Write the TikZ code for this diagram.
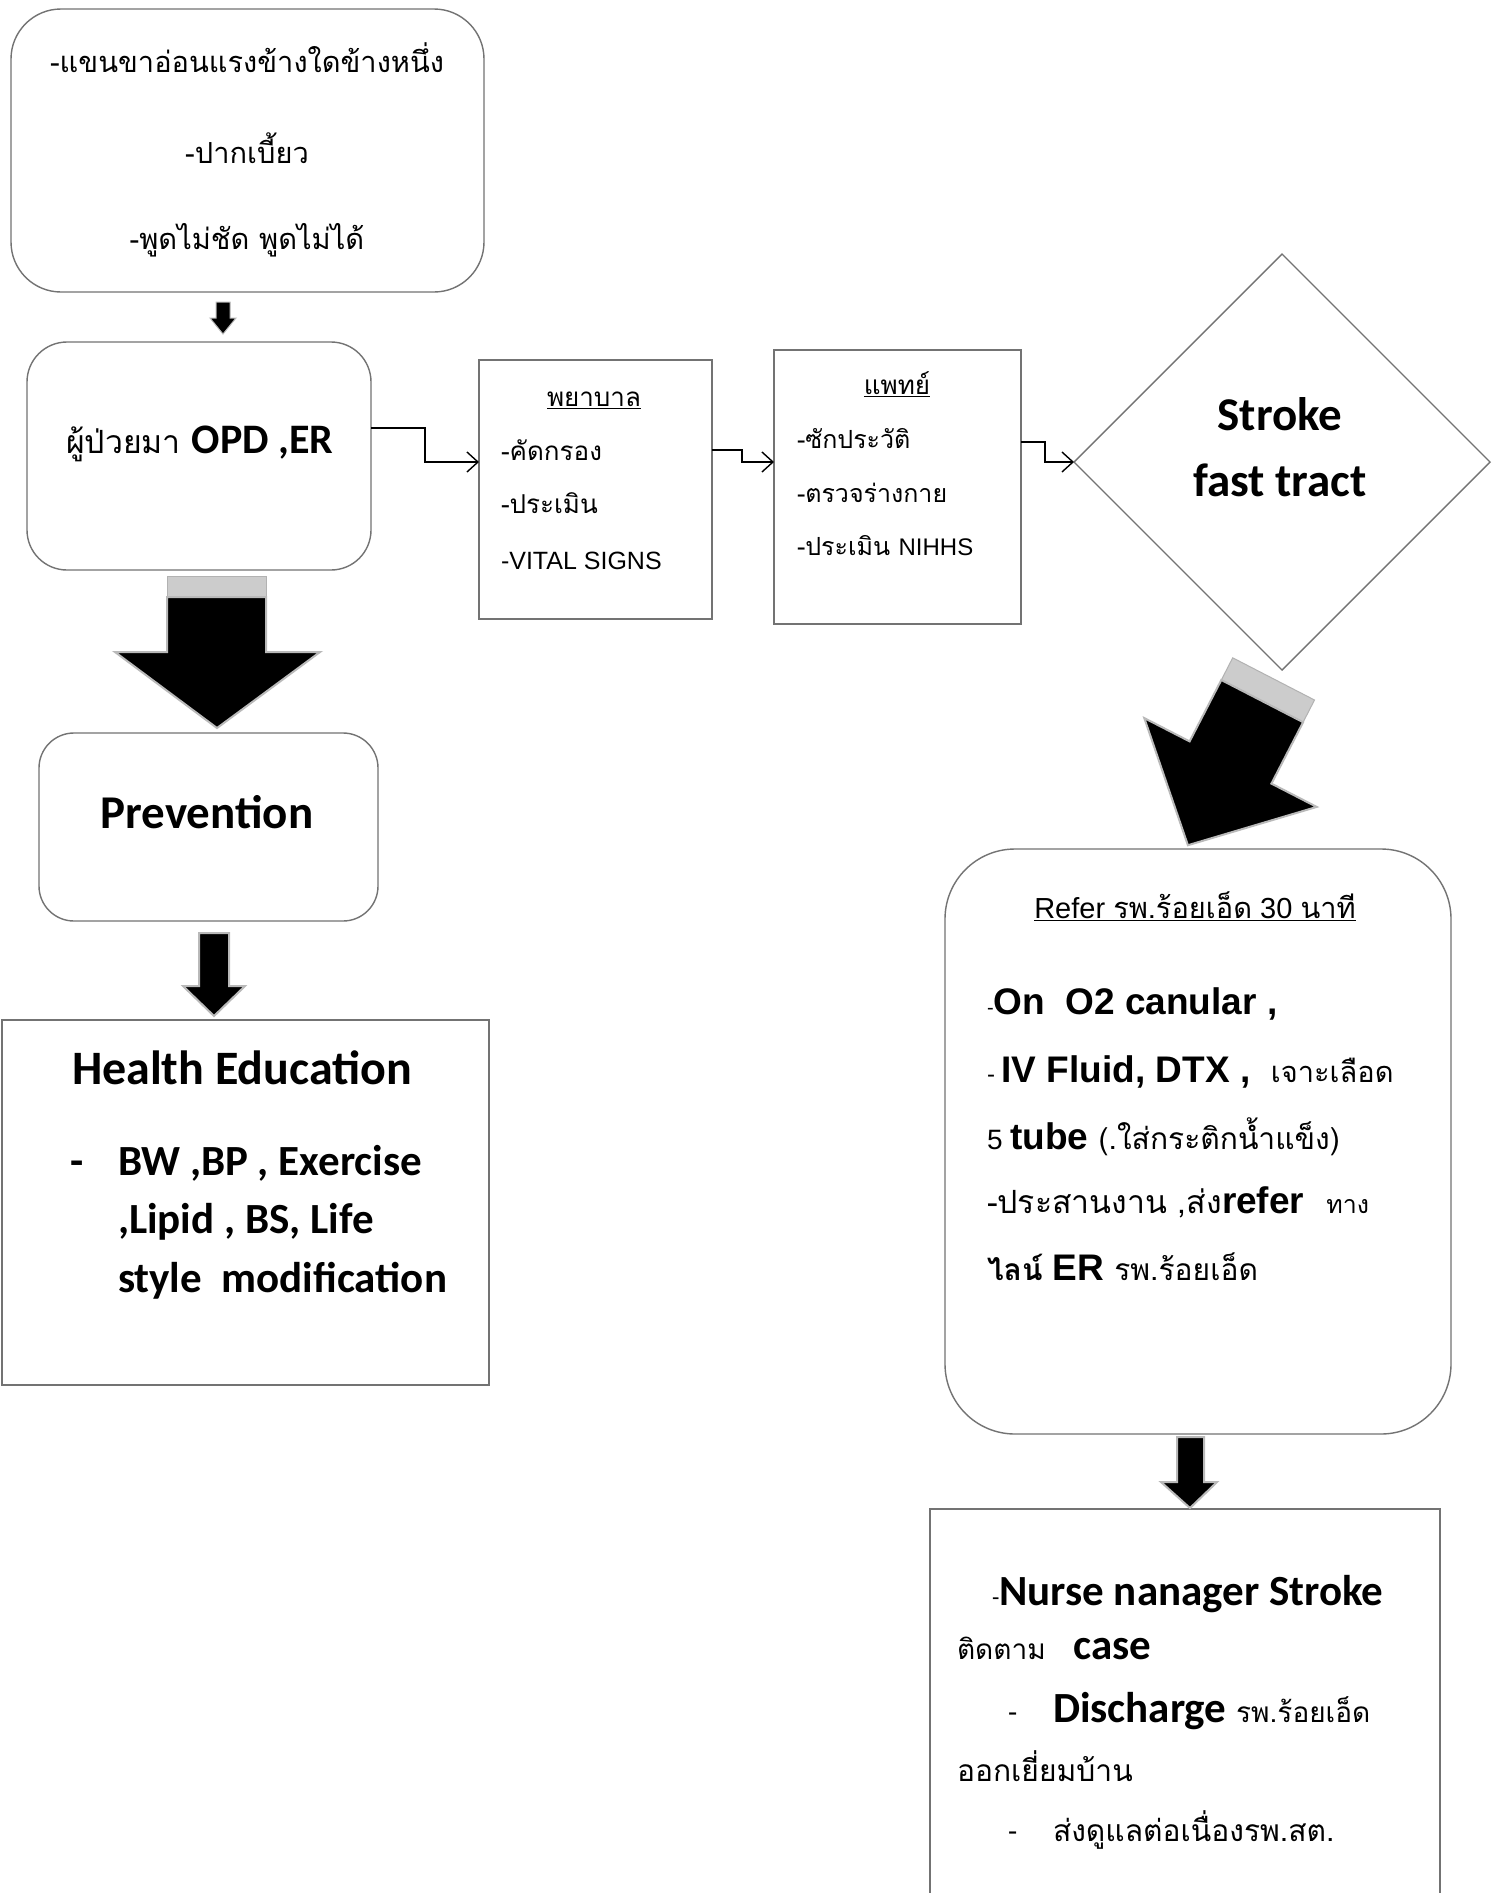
\documentclass[tikz,border=0pt]{standalone}
\usepackage{fontspec}
\setmainfont{Carlito}
\newfontfamily\thai[Script=Thai]{Loma}
\newfontfamily\arial{Liberation Sans}
\newcommand\setfs[1]{\fontsize{#1}{#1}\selectfont}
\usetikzlibrary{arrows.meta,shapes.geometric}
\begin{document}
\begin{tikzpicture}[x=1pt,y=-1pt,
  rbox/.style={draw=black!55, line width=1.4pt, inner sep=0pt, outer sep=0pt},
  conn/.style={line width=1.4pt, -{Straight Barb[length=11pt,width=20pt,line width=1.4pt]}},
  barrow/.style={fill=black, draw=gray!55, line width=2pt, line join=miter},
  band/.style={fill=gray!40, draw=gray!60, line width=1pt},
  txt/.style={inner sep=0pt, outer sep=0pt, anchor=mid west},
  ctxt/.style={inner sep=0pt, outer sep=0pt, anchor=mid}]
\useasboundingbox (0,0) rectangle (1503,1893);
\fill[white] (0,0) rectangle (1503,1893);

% ---------- boxes ----------
\node[rbox, rounded corners=50pt, minimum width=473pt, minimum height=283pt] (sym) at (247.5,150.5) {};
\node[rbox, rounded corners=40pt, minimum width=344pt, minimum height=228pt] (opd) at (199,456) {};
\node[rbox, minimum width=233pt, minimum height=259pt] (nurse) at (595.5,489.5) {};
\node[rbox, minimum width=247pt, minimum height=274pt] (doc) at (897.5,487) {};
\node[rbox, shape=diamond, aspect=1, minimum width=416pt, minimum height=416pt] (dia) at (1282,462) {};
\node[rbox, rounded corners=35pt, minimum width=339pt, minimum height=188pt] (prev) at (208.5,827) {};
\node[rbox, minimum width=487pt, minimum height=365pt] (health) at (245.5,1202.5) {};
\node[rbox, rounded corners=70pt, minimum width=506pt, minimum height=585pt] (refer) at (1198,1141.5) {};
\coordinate (nmtop) at (1185,1509);
\draw[draw=black!55, line width=1.4pt] (930,1893) -- (930,1509) -- (1440,1509) -- (1440,1893);

% ---------- texts ----------
\node[ctxt] (s1) at (247,70) {\thai\setfs{29}-แขนขาอ่อนแรงข้างใดข้างหนึ่ง};
\node[ctxt] (s2) at (247,161) {\thai\setfs{29}-ปากเบี้ยว};
\node[ctxt] (s3) at (247,247) {\thai\setfs{29}-พูดไม่ชัด พูดไม่ได้};

\node[txt] (o1) at (66,451) {{\thai\setfs{32}ผู้ป่วยมา\ }{\bfseries\setfs{42}OPD ,ER}};

\node[ctxt] (n0) at (594,404) {\thai\setfs{26}\underline{พยาบาล}};
\node[txt] (n1) at (501,458) {\thai\setfs{26}-คัดกรอง};
\node[txt] (n2) at (501,511) {\thai\setfs{26}-ประเมิน};
\node[txt] (n3) at (501,567) {\arial\setfs{25}-VITAL SIGNS};

\node[ctxt] (d0) at (897,392) {\thai\setfs{26}\underline{แพทย์}};
\node[txt] (d1) at (797,446) {\thai\setfs{25}-ซักประวัติ};
\node[txt] (d2) at (797,500) {\thai\setfs{25}-ตรวจร่างกาย};
\node[txt] (d3) at (797,553) {{\thai\setfs{25}-ประเมิน\ }{\arial\setfs{24}NIHHS}};

\node[ctxt] (f1) at (1280,428) {\bfseries\setfs{47}Stroke};
\node[ctxt] (f2) at (1280,494) {\bfseries\setfs{47}fast tract};

\node[ctxt] (p1) at (207,826) {\bfseries\setfs{47}Prevention};

\node[txt] (h0) at (72,1082) {\bfseries\setfs{48}Health Education};
\node[txt] (hd) at (70,1173) {\bfseries\setfs{43}-};
\node[txt] (h1) at (118,1173) {\bfseries\setfs{43}BW ,BP , Exercise};
\node[txt] (h2) at (118,1231) {\bfseries\setfs{43},Lipid , BS, Life};
\node[txt] (h3) at (118,1290) {\bfseries\setfs{43}style\ \ modification};

\node[ctxt] (r0) at (1195,916) {\setfs{29}\underline{{\arial Refer }{\thai รพ.ร้อยเอ็ด}{\arial\ 30 }{\thai นาที}}};
\node[txt] (r1) at (987,1012) {{\arial\setfs{20}-}{\arial\bfseries\setfs{37}On\ \ O2 canular ,}};
\node[txt] (r2) at (987,1080) {{\arial\setfs{24}- }{\arial\bfseries\setfs{37}IV Fluid, DTX ,\ \ }{\thai\setfs{29}เจาะเลือด}};
\node[txt] (r3) at (987,1147) {{\arial\setfs{28}5 }{\arial\bfseries\setfs{37}tube }{\thai\setfs{30}(.ใส่กระติกน้ำแข็ง)}};
\node[txt] (r4) at (987,1211) {{\thai\setfs{32}-ประสานงาน ,ส่ง}{\arial\bfseries\setfs{37}refer}\hspace{22pt}{\thai\setfs{25}ทาง}};
\node[txt] (r5) at (987,1278) {{\thai\bfseries\setfs{30}ไลน์\ }{\arial\bfseries\setfs{37}ER\ }{\thai\setfs{30}รพ.ร้อยเอ็ด}};

\node[txt] (m1) at (992,1603) {{\setfs{24}-}{\bfseries\setfs{43}Nurse nanager Stroke}};
\node[txt] (m2) at (957,1657) {{\thai\setfs{28}ติดตาม}\hspace{28pt}{\bfseries\setfs{43}case}};
\node[txt] (m3d) at (1008,1720) {\setfs{30}-};
\node[txt] (m3) at (1053,1720) {{\bfseries\setfs{43}Discharge\ }{\thai\setfs{28}รพ.ร้อยเอ็ด}};
\node[txt] (m4) at (957,1779) {\thai\setfs{30}ออกเยี่ยมบ้าน};
\node[txt] (m5d) at (1008,1839) {\setfs{30}-};
\node[txt] (m5) at (1053,1839) {\thai\setfs{30}ส่งดูแลต่อเนื่องรพ.สต.};

% ---------- connectors ----------
\draw[conn] (opd.east |- 0,428) -- (425,428) |- (nurse.west |- 0,462);
\draw[conn] (nurse.east |- 0,450) -- (742,450) |- (doc.west |- 0,462);
\draw[conn] (doc.east |- 0,442) -- (1045,442) |- (dia.west);

% ---------- block arrows ----------
\draw[barrow, line width=1pt] (216,302) -- (230,302) -- (230,318) -- (236,318) -- (223,334) -- (210,318) -- (216,318) -- cycle;
\draw[band] (167,576) rectangle (266,598);
\draw[barrow] (167,597) -- (266,597) -- (266,652) -- (320,652) -- (217,728) -- (115,652) -- (167,652) -- cycle;
\draw[barrow] (199,933) -- (229,933) -- (229,986) -- (245,986) -- (214,1016) -- (183,986) -- (199,986) -- cycle;
\draw[band] (1232.7,657.8) -- (1314.5,700.0) -- (1303.1,722.2) -- (1221.3,680.0) -- cycle;
\draw[barrow] (1221.3,680.0) -- (1303.1,722.2) -- (1271.4,783.6) -- (1316.7,806.9) -- (1187.9,845.2) -- (1144.3,718.1) -- (1189.6,741.4) -- cycle;
\draw[barrow] (1177,1437) -- (1204,1437) -- (1204,1482) -- (1217,1482) -- (1190,1508) -- (1161,1482) -- (1177,1482) -- cycle;
\end{tikzpicture}
\end{document}
